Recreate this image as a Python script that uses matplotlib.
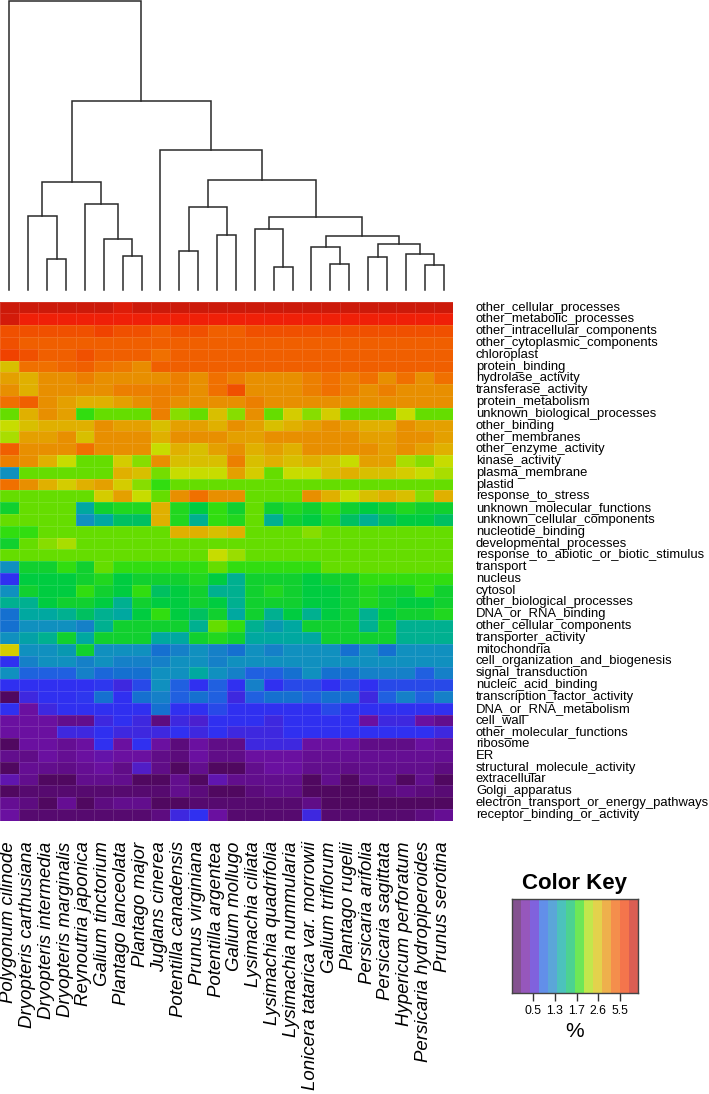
import numpy as np
import matplotlib
matplotlib.use("Agg")
import matplotlib.pyplot as plt
from matplotlib.colors import LinearSegmentedColormap, FuncNorm
from matplotlib.transforms import blended_transform_factory

plt.rcParams['font.family'] = ['Liberation Sans', 'DejaVu Sans']

species = ["Polygonum cilinode", "Dryopteris carthusiana", "Dryopteris intermedia",
           "Dryopteris marginalis", "Reynoutria japonica", "Galium tinctorium",
           "Plantago lanceolata", "Plantago major", "Juglans cinerea",
           "Potentilla canadensis", "Prunus virginiana", "Potentilla argentea",
           "Galium mollugo", "Lysimachia ciliata", "Lysimachia quadrifolia",
           "Lysimachia nummularia", "Lonicera tatarica var. morrowii", "Galium triflorum",
           "Plantago rugelii", "Persicaria arifolia", "Persicaria sagittata",
           "Hypericum perforatum", "Persicaria hydropiperoides", "Prunus serotina"]

categories = ["other_cellular_processes", "other_metabolic_processes", "other_intracellular_components",
              "other_cytoplasmic_components", "chloroplast", "protein_binding", "hydrolase_activity",
              "transferase_activity", "protein_metabolism", "unknown_biological_processes",
              "other_binding", "other_membranes", "other_enzyme_activity", "kinase_activity",
              "plasma_membrane", "plastid", "response_to_stress", "unknown_molecular_functions",
              "unknown_cellular_components", "nucleotide_binding", "developmental_processes",
              "response_to_abiotic_or_biotic_stimulus", "transport", "nucleus", "cytosol",
              "other_biological_processes", "DNA_or_RNA_binding", "other_cellular_components",
              "transporter_activity", "mitochondria", "cell_organization_and_biogenesis",
              "signal_transduction", "nucleic_acid_binding", "transcription_factor_activity",
              "DNA_or_RNA_metabolism", "cell_wall", "other_molecular_functions", "ribosome", "ER",
              "structural_molecule_activity", "extracellular", "Golgi_apparatus",
              "electron_transport_or_energy_pathways", "receptor_binding_or_activity"]

# percentages (rows = categories, columns = species in dendrogram order)
r01 = [10.4, 10.4, 10.4, 10.4, 10.4, 10.4, 9.6, 10.4, 10.4, 10.4, 10.4, 10.4, 10.4, 10.4, 10.4, 10.4, 10.4, 10.4, 10.4, 10.4, 10.4, 10.4, 10.4, 10.4]
r02 = [10.0, 8.8, 8.8, 8.8, 8.8, 8.8, 8.8, 8.8, 8.8, 8.8, 8.8, 8.8, 8.8, 8.8, 8.8, 8.8, 8.8, 8.8, 8.8, 8.8, 8.8, 8.8, 8.8, 8.8]
r03 = [5.33, 5.33, 5.33, 5.33, 5.33, 6.4, 5.33, 5.33, 4.92, 5.33, 5.33, 4.92, 4.92, 5.33, 5.33, 5.33, 5.33, 5.33, 5.33, 5.33, 5.33, 5.33, 5.33, 5.33]
r04 = [5.33, 4.92, 4.92, 4.92, 4.92, 4.92, 4.92, 4.92, 4.92, 4.92, 4.92, 4.92, 4.92, 4.92, 4.92, 4.92, 4.92, 4.92, 4.92, 4.92, 4.92, 4.92, 4.92, 4.92]
r05 = [6.5, 5.33, 4.92, 4.92, 5.33, 4.92, 4.92, 4.92, 4.53, 4.92, 4.92, 4.92, 4.92, 4.92, 4.92, 4.92, 4.92, 4.92, 4.92, 4.92, 4.92, 4.92, 4.92, 4.92]
r06 = [2.57, 4.53, 4.53, 4.8, 4.92, 4.53, 4.3, 3.8, 4.92, 4.92, 4.92, 4.92, 4.92, 4.92, 4.92, 4.92, 4.92, 4.92, 4.92, 4.92, 4.92, 4.92, 4.92, 4.92]
r07 = [3.31, 2.91, 3.72, 3.72, 4.13, 3.72, 3.72, 3.72, 3.72, 4.13, 3.72, 4.53, 4.13, 3.72, 3.72, 3.72, 4.13, 4.53, 4.13, 4.53, 3.72, 4.53, 3.72, 4.53]
r08 = [3.72, 2.91, 3.72, 3.72, 3.72, 3.72, 4.13, 4.13, 4.13, 4.13, 3.72, 4.53, 5.33, 3.72, 3.72, 3.72, 4.13, 4.53, 4.13, 3.72, 4.13, 3.72, 3.72, 3.72]
r09 = [4.53, 4.92, 3.72, 3.31, 2.91, 2.91, 3.31, 3.72, 4.13, 3.72, 3.72, 3.72, 3.72, 4.13, 3.72, 3.72, 3.72, 3.72, 3.72, 3.72, 3.72, 3.72, 3.72, 3.72]
r10 = [2.01, 2.91, 3.72, 3.31, 1.82, 2.01, 2.01, 2.01, 4.13, 2.10, 2.01, 2.57, 2.10, 3.72, 2.01, 2.45, 2.10, 2.45, 2.01, 2.01, 2.01, 2.32, 2.01, 2.01]
r11 = [2.32, 2.57, 2.91, 2.91, 2.91, 3.72, 3.31, 3.31, 2.57, 3.31, 3.31, 2.91, 3.72, 3.31, 2.57, 2.91, 3.31, 3.72, 3.31, 2.91, 2.91, 3.72, 3.31, 3.31]
r12 = [2.19, 3.31, 3.31, 3.72, 2.57, 3.72, 3.72, 3.72, 2.91, 3.72, 3.72, 3.72, 3.31, 3.31, 3.72, 3.72, 3.72, 3.72, 3.72, 3.31, 3.31, 3.72, 3.72, 3.31]
r13 = [4.92, 3.72, 3.72, 3.72, 4.53, 3.72, 3.72, 3.72, 2.32, 2.91, 2.57, 3.31, 3.72, 2.91, 3.31, 2.91, 3.72, 3.72, 3.72, 3.72, 3.31, 3.72, 3.31, 2.91]
r14 = [4.13, 3.72, 2.91, 2.32, 2.01, 2.01, 2.45, 2.10, 3.72, 2.57, 2.57, 2.57, 4.13, 2.57, 2.91, 2.57, 2.91, 2.57, 2.32, 3.31, 3.31, 2.19, 2.10, 2.32]
r15 = [1.29, 2.01, 2.01, 2.01, 2.01, 2.01, 2.91, 2.57, 2.05, 2.32, 2.32, 2.32, 3.31, 2.45, 2.01, 2.32, 2.32, 2.57, 2.91, 2.57, 2.57, 2.45, 2.32, 2.19]
r16 = [4.53, 3.72, 2.91, 2.45, 2.91, 3.31, 2.45, 2.10, 1.82, 2.01, 2.01, 2.01, 2.01, 2.01, 2.01, 2.01, 2.01, 2.01, 2.01, 2.01, 2.01, 2.01, 2.01, 2.01]
r17 = [2.01, 2.01, 2.01, 2.01, 2.01, 2.45, 3.31, 2.32, 2.01, 3.72, 4.53, 3.72, 3.72, 2.01, 2.01, 2.01, 3.72, 2.91, 2.32, 2.57, 2.91, 2.57, 2.10, 2.91]
r18 = [1.67, 2.01, 2.01, 2.01, 1.42, 1.67, 1.73, 1.73, 2.91, 1.73, 1.63, 1.82, 1.67, 2.01, 1.67, 1.73, 1.67, 1.82, 1.67, 1.63, 1.67, 1.73, 1.67, 1.67]
r19 = [2.01, 2.01, 2.01, 2.01, 1.29, 1.42, 1.59, 1.59, 2.91, 1.73, 1.50, 1.82, 1.73, 2.01, 1.50, 1.67, 1.63, 1.73, 1.59, 1.50, 1.59, 1.63, 1.63, 1.59]
r20 = [1.82, 1.82, 2.01, 2.01, 2.01, 2.01, 2.01, 2.01, 2.01, 2.91, 2.91, 2.57, 2.91, 2.01, 2.01, 2.01, 2.10, 2.01, 2.01, 2.01, 2.01, 2.01, 2.01, 2.01]
r21 = [1.67, 2.01, 2.10, 2.19, 2.01, 2.01, 2.01, 2.01, 2.01, 2.01, 2.01, 2.01, 2.01, 2.01, 2.01, 2.01, 2.01, 2.01, 2.01, 2.01, 2.01, 2.01, 2.01, 2.01]
r22 = [2.01, 2.01, 2.01, 2.01, 2.01, 2.01, 2.01, 2.01, 2.01, 2.01, 2.01, 2.32, 2.15, 2.01, 2.01, 2.01, 2.01, 2.01, 2.01, 2.01, 2.01, 2.01, 2.01, 2.01]
r23 = [1.29, 1.67, 1.67, 1.82, 1.67, 2.01, 1.82, 1.82, 1.82, 1.82, 1.82, 2.01, 1.82, 1.82, 1.82, 1.82, 1.82, 2.01, 2.01, 2.01, 2.01, 2.01, 2.01, 2.01]
r24 = [0.70, 1.63, 1.63, 1.63, 1.67, 1.73, 1.63, 1.67, 1.67, 1.67, 1.73, 1.63, 1.50, 1.67, 1.67, 1.67, 1.63, 1.67, 1.67, 1.82, 1.82, 1.82, 1.82, 1.82]
r25 = [1.29, 1.67, 1.63, 1.63, 1.82, 1.67, 1.63, 1.82, 1.59, 1.63, 1.67, 1.50, 1.50, 1.67, 1.73, 1.67, 1.63, 1.63, 1.67, 1.73, 1.67, 1.67, 1.82, 1.67]
r26 = [1.50, 1.50, 1.63, 1.67, 1.67, 1.63, 1.50, 1.67, 1.63, 1.63, 1.67, 1.63, 1.50, 1.67, 1.67, 1.67, 1.63, 1.63, 1.67, 1.73, 1.67, 1.63, 1.63, 1.67]
r27 = [1.04, 1.42, 1.42, 1.50, 1.59, 1.50, 1.42, 1.63, 1.82, 1.63, 1.59, 1.67, 1.42, 1.67, 1.50, 1.63, 1.50, 1.63, 1.67, 1.50, 1.63, 1.67, 1.67, 1.73]
r28 = [1.04, 1.29, 1.29, 1.29, 1.20, 1.50, 1.67, 1.67, 1.67, 1.67, 1.50, 2.01, 1.82, 1.50, 1.33, 1.42, 1.67, 1.67, 1.67, 1.50, 1.67, 1.50, 1.50, 1.50]
r29 = [1.29, 1.38, 1.50, 1.67, 1.42, 1.67, 1.67, 1.67, 1.42, 1.42, 1.67, 1.73, 1.67, 1.42, 1.42, 1.42, 1.42, 1.67, 1.67, 1.67, 1.67, 1.50, 1.50, 1.50]
r30 = [2.45, 1.29, 1.29, 1.33, 1.67, 1.29, 1.29, 1.29, 1.04, 1.20, 1.29, 1.20, 1.04, 1.29, 1.20, 1.29, 1.29, 1.29, 1.04, 1.29, 1.04, 1.29, 1.29, 1.29]
r31 = [0.70, 1.20, 1.29, 1.29, 1.20, 1.29, 1.20, 1.20, 1.20, 1.29, 1.29, 1.20, 1.29, 1.29, 1.29, 1.29, 1.29, 1.29, 1.29, 1.29, 1.29, 1.29, 1.29, 1.29]
r32 = [1.29, 0.90, 0.87, 0.87, 1.20, 0.95, 1.04, 1.04, 1.29, 1.29, 1.42, 1.29, 1.20, 0.87, 0.87, 1.04, 1.29, 1.04, 1.04, 1.20, 1.20, 1.20, 0.87, 1.20]
r33 = [0.70, 0.70, 0.70, 0.70, 0.70, 0.73, 0.62, 0.79, 1.29, 0.87, 0.70, 0.87, 0.70, 1.20, 0.70, 0.79, 0.79, 0.70, 0.79, 0.70, 0.79, 0.79, 0.79, 0.79]
r34 = [0.10, 0.62, 0.70, 0.70, 0.73, 1.04, 0.70, 1.04, 1.20, 0.87, 1.04, 0.87, 0.62, 0.87, 1.04, 1.04, 0.87, 1.04, 1.04, 0.62, 0.87, 1.20, 0.87, 1.20]
r35 = [0.70, 0.31, 0.62, 0.70, 0.70, 0.70, 0.70, 0.70, 1.04, 0.70, 0.70, 0.79, 0.70, 0.70, 0.70, 0.70, 0.70, 0.79, 0.70, 0.70, 0.70, 0.70, 0.70, 0.70]
r36 = [0.31, 0.31, 0.31, 0.25, 0.25, 0.62, 0.70, 0.62, 0.21, 0.62, 0.54, 0.70, 0.70, 0.70, 0.62, 0.70, 0.70, 0.70, 0.70, 0.31, 0.62, 0.62, 0.31, 0.25]
r37 = [0.31, 0.31, 0.31, 0.62, 0.62, 0.70, 0.62, 0.62, 0.62, 0.70, 0.62, 0.70, 0.62, 0.62, 0.62, 0.70, 0.70, 0.70, 0.70, 0.70, 0.70, 0.70, 0.70, 0.62]
r38 = [0.10, 0.31, 0.31, 0.27, 0.31, 0.70, 0.31, 0.70, 0.31, 0.19, 0.31, 0.23, 0.23, 0.62, 0.62, 0.62, 0.31, 0.31, 0.31, 0.23, 0.23, 0.23, 0.31, 0.27]
r39 = [0.25, 0.23, 0.31, 0.27, 0.31, 0.35, 0.31, 0.31, 0.23, 0.19, 0.31, 0.23, 0.23, 0.31, 0.31, 0.31, 0.27, 0.27, 0.27, 0.27, 0.27, 0.27, 0.27, 0.27]
r40 = [0.10, 0.27, 0.25, 0.23, 0.27, 0.31, 0.23, 0.48, 0.23, 0.10, 0.25, 0.10, 0.10, 0.25, 0.31, 0.31, 0.25, 0.25, 0.23, 0.25, 0.25, 0.25, 0.25, 0.21]
r41 = [0.38, 0.25, 0.10, 0.10, 0.25, 0.25, 0.25, 0.10, 0.10, 0.25, 0.10, 0.38, 0.25, 0.25, 0.25, 0.25, 0.10, 0.25, 0.10, 0.25, 0.25, 0.10, 0.25, 0.10]
r42 = [0.10, 0.15, 0.15, 0.15, 0.15, 0.15, 0.15, 0.15, 0.15, 0.25, 0.19, 0.10, 0.10, 0.19, 0.23, 0.23, 0.10, 0.10, 0.10, 0.10, 0.19, 0.23, 0.19, 0.17]
r43 = [0.27, 0.21, 0.10, 0.27, 0.10, 0.21, 0.25, 0.25, 0.10, 0.10, 0.15, 0.15, 0.15, 0.15, 0.15, 0.15, 0.23, 0.10, 0.10, 0.10, 0.10, 0.10, 0.10, 0.10]
r44 = [0.31, 0.15, 0.15, 0.15, 0.15, 0.15, 0.15, 0.15, 0.21, 0.62, 0.70, 0.31, 0.15, 0.15, 0.15, 0.15, 0.62, 0.15, 0.15, 0.15, 0.15, 0.15, 0.21, 0.27]

data = np.array([r01, r02, r03, r04, r05, r06, r07, r08, r09, r10, r11, r12, r13, r14, r15,
                 r16, r17, r18, r19, r20, r21, r22, r23, r24, r25, r26, r27, r28, r29, r30,
                 r31, r32, r33, r34, r35, r36, r37, r38, r39, r40, r41, r42, r43, r44])

# column dendrogram (R-style merge: negative = leaf number, positive = earlier merge)
merge_left = [-3, -2, -7, -6, -5, 2, -10, -12, 7, -15, -14, -18, -17, -20, -23, -22, 14, 13, 11, 9, -9, 6, -1]
merge_right = [-4, 1, -8, 3, 4, 5, -11, -13, 8, -16, 10, -19, 12, -21, -24, 15, 16, 17, 18, 19, 20, 21, 22]
merge_height = [0.92, 2.23, 1.01, 1.53, 2.58, 3.25, 1.17, 1.65, 2.48, 0.69, 1.84, 0.79, 1.30, 0.99, 0.75,
                1.09, 1.38, 1.62, 2.18, 3.32, 4.20, 5.68, 8.70]

key_ticks = [0.5, 1.3, 1.7, 2.6, 5.5]

# colour scale: percentage anchors and colours
anchor_pct = [0.10, 0.31, 0.54, 0.70, 0.87, 1.04, 1.20, 1.29, 1.33, 1.42, 1.50, 1.59, 1.63, 1.67,
              1.82, 2.01, 2.19, 2.32, 2.45, 2.57, 2.91, 3.72, 4.53, 4.92, 5.33, 7.2, 8.8, 10.4]
anchor_col = ["#500860", "#6a10a0", "#4a20d0", "#3030f0", "#2060e0", "#1570d0", "#1580c8", "#1090c0",
              "#0898b0", "#00a8a0", "#00b090", "#00c060", "#00cc40", "#10d030", "#30dd10", "#66dd00",
              "#a8dd00", "#c8dc00", "#d4cc00", "#d8c000", "#e0b000", "#e89000", "#f07000", "#f06000",
              "#f05000", "#f03c00", "#f02008", "#cc1a0a"]

brk_v = [0.0] + key_ticks + [12.0]
brk_f = [0.0, 0.171, 0.342, 0.513, 0.684, 0.855, 1.0]


def fwd(v):
    return np.interp(v, brk_v, brk_f)


def inv(f):
    return np.interp(f, brk_f, brk_v)


norm = FuncNorm((fwd, inv), vmin=0.0, vmax=12.0)
pos = [0.0] + [float(norm(p)) for p in anchor_pct] + [1.0]
cols = [anchor_col[0]] + anchor_col + ["#c01808"]
cmap = LinearSegmentedColormap.from_list("key", list(zip(pos, cols)), N=512)

W, H = 709, 1094
fig = plt.figure(figsize=(W / 100, H / 100), dpi=100)


def ax_px(l, t, r, b):
    return fig.add_axes([l / W, 1 - b / H, (r - l) / W, (b - t) / H])


nrow, ncol = data.shape

# heatmap
ax = ax_px(0, 301.7, 453, 820.7)
ax.pcolormesh(np.arange(ncol + 1), np.arange(nrow + 1), data, cmap=cmap, norm=norm,
              edgecolors=(1, 1, 1, 0.12), linewidth=0.4)
ax.set_xlim(0, ncol)
ax.set_ylim(nrow, 0)
ax.axis("off")

tr = blended_transform_factory(ax.transAxes, ax.transData)
for i, c in enumerate(categories):
    ax.text(1 + 23 / 453, i + 0.5, c, transform=tr, ha="left", va="center", fontsize=9.4)

for j, s in enumerate(species):
    ax.text(j + 0.45, nrow + 1.75, s, rotation=90, ha="center", va="top",
            fontsize=13.4, style="italic")

# dendrogram
axd = ax_px(0, 0.5, 453, 290)
node_x = {}
node_h = {}
for k in range(len(merge_left)):
    xs, hs = [], []
    for ch in (merge_left[k], merge_right[k]):
        if ch < 0:
            xs.append(-ch - 0.5)
            hs.append(0.0)
        else:
            xs.append(node_x[ch])
            hs.append(node_h[ch])
    h = merge_height[k]
    axd.plot([xs[0], xs[0], xs[1], xs[1]], [hs[0], h, h, hs[1]], color="#2a2a2a", lw=1.1,
             solid_joinstyle="miter", clip_on=False)
    node_x[k + 1] = (xs[0] + xs[1]) / 2
    node_h[k + 1] = h
axd.set_xlim(0, ncol)
axd.set_ylim(0, max(merge_height))
axd.axis("off")

# colour key
axk = ax_px(511.7, 898.5, 638.3, 992.7)
nb = 14
for b in range(nb):
    axk.axvspan(b / nb, (b + 1) / nb, color=cmap((b + 0.5) / nb), alpha=0.7, lw=0)
axk.set_xlim(0, 1)
axk.set_ylim(0, 1)
axk.set_yticks([])
axk.set_xticks([float(norm(t)) for t in key_ticks])
axk.set_xticklabels([str(t) for t in key_ticks], fontsize=8.8)
axk.tick_params(axis="x", length=6, width=1, pad=2.5, color="#333333")
for sp in axk.spines.values():
    sp.set_color("#444444")
    sp.set_linewidth(1.0)
axk.set_xlabel("%", fontsize=15, labelpad=4)
fig.text(575 / W, 1 - 883 / H, "Color Key", ha="center", va="center",
         fontsize=16, fontweight="bold")

fig.savefig("out.png", dpi=100)
